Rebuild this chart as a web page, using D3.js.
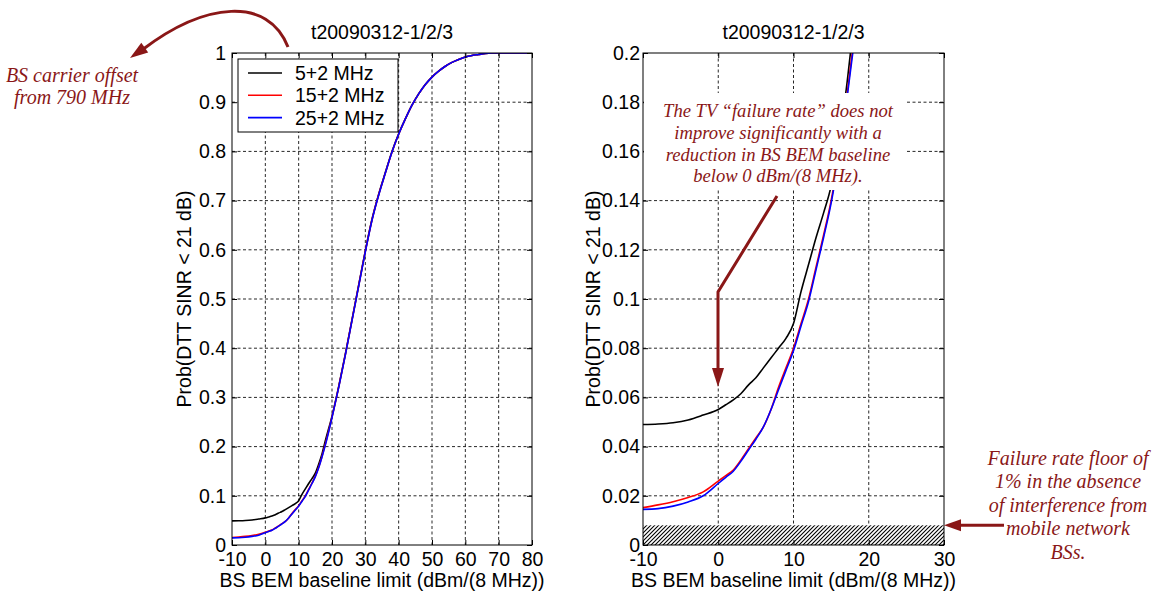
<!DOCTYPE html>
<html>
<head>
<meta charset="utf-8">
<script src="https://cdn.jsdelivr.net/npm/d3@7"></script>
<style>
  html, body { margin: 0; padding: 0; background: #fff; }
  svg { display: block; }
</style>
</head>
<body>
<svg id="chart" width="1158" height="592"></svg>
<script>
// ---------------- DATA ----------------
const chartTitle = "t20090312-1/2/3";
const xLabel = "BS BEM baseline limit (dBm/(8 MHz))";
const yLabel = "Prob(DTT SINR < 21 dB)";
const seriesNames = ["5+2 MHz", "15+2 MHz", "25+2 MHz"];
const seriesColors = ["#000000", "#ff0000", "#0000ff"];

const xValues = [-10, -8, -6, -4, -2, 0, 1, 2, 3, 4, 5, 6, 7, 8, 9, 10, 11, 12, 13, 14, 15, 16, 17, 18,
  20, 22, 24, 26, 28, 30, 32, 34, 36, 38, 40, 42, 44, 46, 48, 50, 52, 54, 56, 58, 60, 62, 64, 66, 68, 70, 80];

const series5 = [0.049, 0.0492, 0.0497, 0.0508, 0.0528, 0.0551, 0.057, 0.059, 0.0615, 0.065, 0.068, 0.072,
  0.076, 0.080, 0.084, 0.090, 0.103, 0.114, 0.125, 0.135, 0.146, 0.164, 0.185, 0.212,
  0.262, 0.322, 0.388, 0.458, 0.528, 0.598, 0.662, 0.713, 0.757, 0.800, 0.836, 0.866, 0.894, 0.917,
  0.936, 0.951, 0.963, 0.973, 0.981, 0.987, 0.992, 0.995, 0.997, 0.999, 1.0, 1.0, 1.0];

const series15 = [0.0152, 0.0163, 0.0176, 0.0193, 0.0216, 0.026, 0.0282, 0.0305, 0.0345, 0.039, 0.0435, 0.048,
  0.055, 0.064, 0.072, 0.080, 0.090, 0.100, 0.113, 0.126, 0.140, 0.158, 0.180, 0.205,
  0.260, 0.321, 0.387, 0.457, 0.527, 0.597, 0.661, 0.712, 0.756, 0.799, 0.835, 0.866, 0.894, 0.917,
  0.936, 0.951, 0.963, 0.973, 0.981, 0.987, 0.992, 0.995, 0.997, 0.999, 1.0, 1.0, 1.0];

const series25 = [0.0145, 0.0148, 0.0158, 0.0175, 0.0200, 0.0250, 0.0275, 0.030, 0.034, 0.0385, 0.043, 0.048,
  0.055, 0.063, 0.071, 0.079, 0.089, 0.099, 0.112, 0.125, 0.139, 0.157, 0.179, 0.203,
  0.259, 0.320, 0.386, 0.456, 0.526, 0.596, 0.660, 0.711, 0.756, 0.799, 0.835, 0.866, 0.894, 0.917,
  0.936, 0.951, 0.963, 0.973, 0.981, 0.987, 0.992, 0.995, 0.997, 0.999, 1.0, 1.0, 1.0];

const leftXTicks = [-10, 0, 10, 20, 30, 40, 50, 60, 70, 80];
const leftXTickLabels = ["-10", "0", "10", "20", "30", "40", "50", "60", "70", "80"];
const leftYTicks = [0, 0.1, 0.2, 0.3, 0.4, 0.5, 0.6, 0.7, 0.8, 0.9, 1];
const leftYTickLabels = ["0", "0.1", "0.2", "0.3", "0.4", "0.5", "0.6", "0.7", "0.8", "0.9", "1"];
const rightXTicks = [-10, 0, 10, 20, 30];
const rightXTickLabels = ["-10", "0", "10", "20", "30"];
const rightYTicks = [0, 0.02, 0.04, 0.06, 0.08, 0.1, 0.12, 0.14, 0.16, 0.18, 0.2];
const rightYTickLabels = ["0", "0.02", "0.04", "0.06", "0.08", "0.1", "0.12", "0.14", "0.16", "0.18", "0.2"];

const floorLevel = 0.008;   // hatched failure-rate floor

const noteCarrier = ["BS carrier offset", "from 790 MHz"];
const noteFailure = ["The TV \u201cfailure rate\u201d does not", "improve significantly with a",
  "reduction in BS BEM baseline", "below 0 dBm/(8 MHz)."];
const noteFloor = ["Failure rate floor of", "1% in the absence", "of interference from",
  "mobile network", "BSs."];

// ---------------- DRAWING ----------------
const svg = d3.select("#chart");
const FONT = "'Liberation Sans', Arial, sans-serif";
const FS = "19.5px";
const SERIF = "'Liberation Serif', 'Times New Roman', serif";
const NOTE = "#8a1717";

svg.append("rect").attr("width", 1158).attr("height", 592).attr("fill", "#fff");

const defs = svg.append("defs");
const pat = defs.append("pattern").attr("id", "hatch").attr("patternUnits", "userSpaceOnUse")
  .attr("width", 4).attr("height", 4);
pat.append("rect").attr("width", 4).attr("height", 4).attr("fill", "#fff");
pat.append("path").attr("d", "M-1,1 l2,-2 M0,4 l4,-4 M3,5 l2,-2")
  .attr("stroke", "#000").attr("stroke-width", 1.1);

const seriesList = [series5, series15, series25];

function drawPanel(cfg) {
  const x = d3.scaleLinear().domain(cfg.xDomain).range([cfg.x0, cfg.x1]);
  const y = d3.scaleLinear().domain(cfg.yDomain).range([cfg.y1, cfg.y0]);
  const g = svg.append("g");

  const clipId = "clip" + cfg.id;
  defs.append("clipPath").attr("id", clipId).append("rect")
    .attr("x", cfg.x0).attr("y", cfg.y0).attr("width", cfg.x1 - cfg.x0).attr("height", cfg.y1 - cfg.y0);

  // grid
  const grid = g.append("g").attr("stroke", "#000").attr("stroke-width", 0.85)
    .attr("stroke-dasharray", "3,2.5");
  grid.selectAll("line.v").data(cfg.xTicks.slice(1, -1)).join("line")
    .attr("x1", d => x(d)).attr("x2", d => x(d)).attr("y1", cfg.y0).attr("y2", cfg.y1);
  grid.selectAll("line.h").data(cfg.yTicks.slice(1, -1)).join("line")
    .attr("x1", cfg.x0).attr("x2", cfg.x1).attr("y1", d => y(d)).attr("y2", d => y(d));

  if (cfg.floor) {
    g.append("rect").attr("x", cfg.x0).attr("y", y(floorLevel))
      .attr("width", cfg.x1 - cfg.x0).attr("height", y(0) - y(floorLevel))
      .attr("fill", "url(#hatch)");
  }

  // curves
  const line = d3.line().x(d => x(d[0])).y(d => y(d[1])).curve(d3.curveMonotoneX);
  const curves = g.append("g").attr("clip-path", `url(#${clipId})`);
  seriesList.forEach((s, i) => {
    curves.append("path").datum(xValues.map((xv, k) => [xv, s[k]]))
      .attr("d", line).attr("fill", "none").attr("stroke", seriesColors[i])
      .attr("stroke-width", 1.6).attr("stroke-linejoin", "round");
  });

  // axes (MATLAB style: inward ticks on all sides)
  const ax = g.append("g");
  const bottom = ax.append("g").attr("transform", `translate(0,${cfg.y1})`)
    .call(d3.axisBottom(x).tickValues(cfg.xTicks).tickSize(-5).tickPadding(7)
      .tickFormat((d, i) => cfg.xLabels[i]));
  const top = ax.append("g").attr("transform", `translate(0,${cfg.y0})`)
    .call(d3.axisTop(x).tickValues(cfg.xTicks).tickSize(-5).tickFormat(""));
  const left = ax.append("g").attr("transform", `translate(${cfg.x0},0)`)
    .call(d3.axisLeft(y).tickValues(cfg.yTicks).tickSize(-5).tickPadding(cfg.yPad)
      .tickFormat((d, i) => cfg.yLabels[i]));
  const right = ax.append("g").attr("transform", `translate(${cfg.x1},0)`)
    .call(d3.axisRight(y).tickValues(cfg.yTicks).tickSize(-5).tickFormat(""));
  [bottom, top, left, right].forEach(a => {
    a.select(".domain").remove();
    a.selectAll("line").attr("stroke", "#000");
    a.selectAll("text").attr("fill", "#000").style("font-family", FONT).style("font-size", FS);
  });
  left.selectAll("text").attr("dy", "0.32em");
  g.append("rect").attr("x", cfg.x0).attr("y", cfg.y0).attr("width", cfg.x1 - cfg.x0)
    .attr("height", cfg.y1 - cfg.y0).attr("fill", "none").attr("stroke", "#000").attr("stroke-width", 1);

  // labels
  g.append("text").attr("x", (cfg.x0 + cfg.x1) / 2).attr("y", 39).attr("text-anchor", "middle")
    .style("font-family", FONT).style("font-size", FS).text(chartTitle);
  g.append("text").attr("x", (cfg.x0 + cfg.x1) / 2).attr("y", 587).attr("text-anchor", "middle")
    .style("font-family", FONT).style("font-size", FS).text(xLabel);
  g.append("text").attr("transform", `translate(${cfg.yLabelX},${(cfg.y0 + cfg.y1) / 2}) rotate(-90)`)
    .attr("text-anchor", "middle").style("font-family", FONT).style("font-size", FS).text(yLabel);

  return { x, y, g };
}

const L = drawPanel({ id: "L", x0: 232, x1: 532, y0: 53, y1: 545, xDomain: [-10, 80], yDomain: [0, 1],
  xTicks: leftXTicks, xLabels: leftXTickLabels, yTicks: leftYTicks, yLabels: leftYTickLabels,
  yPad: 6, yLabelX: 191, floor: false });
const R = drawPanel({ id: "R", x0: 643, x1: 944, y0: 53, y1: 545, xDomain: [-10, 30], yDomain: [0, 0.2],
  xTicks: rightXTicks, xLabels: rightXTickLabels, yTicks: rightYTicks, yLabels: rightYTickLabels,
  yPad: 3, yLabelX: 600, floor: true });

// legend
const lg = svg.append("g");
lg.append("rect").attr("x", 238).attr("y", 59).attr("width", 160).attr("height", 73)
  .attr("fill", "#fff").attr("stroke", "#000").attr("stroke-width", 1);
seriesNames.forEach((n, i) => {
  const yy = 73 + i * 22.3;
  lg.append("line").attr("x1", 248).attr("x2", 282).attr("y1", yy).attr("y2", yy)
    .attr("stroke", seriesColors[i]).attr("stroke-width", 1.6);
  lg.append("text").attr("x", 295).attr("y", yy).attr("dy", "0.36em")
    .style("font-family", FONT).style("font-size", FS).text(n);
});

// ---- annotations ----
function noteText(lines, cx, y0, dy, size) {
  const t = svg.append("text").attr("text-anchor", "middle").attr("fill", NOTE)
    .style("font-family", SERIF).style("font-style", "italic").style("font-size", size);
  lines.forEach((s, i) => t.append("tspan").attr("x", cx).attr("y", y0 + i * dy).text(s));
}
function arrowHead(tipX, tipY, fromX, fromY, len, half) {
  const dx = tipX - fromX, dy = tipY - fromY, m = Math.hypot(dx, dy);
  const ux = dx / m, uy = dy / m;
  const bx = tipX - ux * len, by = tipY - uy * len;
  svg.append("path").attr("fill", NOTE)
    .attr("d", `M${tipX},${tipY} L${bx - uy * half},${by + ux * half} L${bx + uy * half},${by - ux * half} Z`);
}

// carrier offset note
noteText(noteCarrier, 72, 82, 22, "20px");
svg.append("path").attr("d", "M288,47 C268,-4 205,2 142,50").attr("fill", "none")
  .attr("stroke", NOTE).attr("stroke-width", 3);
arrowHead(130, 58, 150, 44, 18, 6);

// failure-rate note (white box over panel)
svg.append("rect").attr("x", 644).attr("y", 93).attr("width", 263).attr("height", 97).attr("fill", "#fff");
noteText(noteFailure, 778, 117, 21.8, "18.6px");
svg.append("path").attr("d", "M777,196 L718,292 L718,372").attr("fill", "none")
  .attr("stroke", NOTE).attr("stroke-width", 3);
arrowHead(718, 387, 718, 360, 19, 6);

// floor note
noteText(noteFloor, 1068, 465, 23.4, "20px");
svg.append("path").attr("d", `M1004,${R.y(floorLevel)} L958,${R.y(floorLevel)}`).attr("fill", "none")
  .attr("stroke", NOTE).attr("stroke-width", 3);
arrowHead(944, R.y(floorLevel), 970, R.y(floorLevel), 17, 6);
</script>
</body>
</html>
